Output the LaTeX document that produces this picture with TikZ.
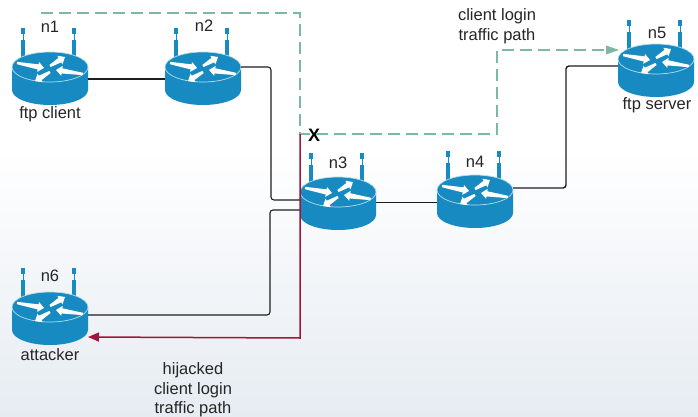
\documentclass[tikz,border=0pt]{standalone}
\usepackage{fontspec}
\setmainfont{Liberation Sans}
\usetikzlibrary{arrows.meta,calc}
\definecolor{routerblue}{HTML}{178BC1}
\definecolor{pathgreen}{HTML}{7DB8A5}
\definecolor{pathred}{HTML}{A6133A}
\definecolor{wirecol}{HTML}{1E1E1E}
\definecolor{bgend}{HTML}{E6ECF2}
\tikzset{
  routerbox/.style={minimum width=76pt,minimum height=52pt,inner sep=0pt,outer sep=0pt},
  lbl/.style={text=black!85,font=\fontsize{16.5}{19.5}\selectfont,align=center,inner sep=0pt},
  wire/.style={draw=wirecol,line width=1.1pt,rounded corners=3pt},
  goodpath/.style={draw=pathgreen,line width=1.3pt,dash pattern=on 12pt off 6pt},
  badpath/.style={draw=pathred,line width=1.5pt},
}
\newcommand{\tarrow}[4]{% x, y, canvas angle, length
  \fill[white,shift={(#1,#2)},rotate=#3] (0,-1.2) -- (#4-6,-2.6) -- (#4-6,-5) -- (#4,0) -- (#4-6,5) -- (#4-6,2.6) -- (0,1.2) -- cycle;
}
\newcommand{\routerdraw}[3]{%
  \begin{scope}[shift={(#2,#3)}]
    \fill[routerblue] (-29,-39) rectangle (-25,-33);
    \fill[routerblue] (-27.5,-33) rectangle (-26.5,-27);
    \fill[routerblue] (-28.7,-27) rectangle (-25,-10);
    \fill[routerblue] (22,-39) rectangle (26,-33);
    \fill[routerblue] (23.5,-33) rectangle (24.5,-27);
    \fill[routerblue] (22.3,-27) rectangle (26,-10);
    \fill[routerblue] (-38,0) -- (-38,23) arc[start angle=180,end angle=0,x radius=38,y radius=15] -- (38,0) -- cycle;
    \fill[routerblue] (0,0) ellipse[x radius=38,y radius=15];
    \draw[white!70!routerblue,line width=0.7pt] (0,0) ellipse[x radius=38,y radius=15];
    \tarrow{-33}{-4}{-10.5}{27.5}
    \tarrow{0}{-1}{31}{17.5}
    \tarrow{33}{7}{171.5}{27.3}
    \tarrow{0}{5}{211}{17.5}
  \end{scope}
  \node[routerbox] (#1) at (#2,#3+12) {};
}
\begin{document}
\begin{tikzpicture}[x=1pt,y=-1pt]
  \useasboundingbox (0,0) rectangle (698,417);
  \fill[white] (0,0) rectangle (698,150);
  \shade[top color=white,bottom color=bgend] (0,150) rectangle (698,417);

  \routerdraw{n1}{50}{67}
  \routerdraw{n2}{203}{67}
  \routerdraw{n3}{338}{192}
  \routerdraw{n4}{475}{190}
  \routerdraw{n5}{656}{59}
  \routerdraw{n6}{50}{307}

  \node[lbl] (ln1) at (50,27) {n1};
  \node[lbl] (ln2) at (204,26) {n2};
  \node[lbl] (ln3) at (338,163) {n3};
  \node[lbl] (ln4) at (475,162) {n4};
  \node[lbl] (ln5) at (657,33) {n5};
  \node[lbl] (ln6) at (50,276) {n6};
  \node[lbl] (client) at (50,114) {ftp client};
  \node[lbl] (server) at (657,105) {ftp server};
  \node[lbl] (attacker) at (50,355) {attacker};
  \node[lbl] (golabel) at (497,26) {client login\\traffic path};
  \node[lbl] (badlabel) at (193,390) {hijacked\\client login\\traffic path};
  \node[text=black,font=\bfseries\fontsize{18}{20}\selectfont,inner sep=0pt] (cut) at (314,135) {X};

  \draw[wire] (n1.east) -- (n2.west);
  \draw[wire] ([yshift=12pt]n2.east) -| (271,150) |- ([yshift=4pt]n3.west);
  \draw[wire] ([yshift=-6pt]n3.west) -| (270,260) |- ([yshift=4pt]n6.east);
  \draw[wire] ([yshift=1.5pt]n3.east) -- ([yshift=-0.5pt]n4.west);
  \draw[wire,line width=1.4pt] ([yshift=14pt]n4.east) -| (566,120) |- ([yshift=5pt]n5.west);

  \coordinate (gstart) at (41,13);
  \coordinate (gc1) at (300,13);
  \coordinate (xpt) at (300,134);
  \coordinate (gc2) at (497,134);
  \coordinate (gc3) at (497,50);
  \draw[goodpath] (gstart) -- (gc1) -- (xpt) -- (gc2) -- (gc3) -- (606,50);
  \path[fill=pathgreen] (619,50) -- (606,45.5) -- (606,54.5) -- cycle;

  \coordinate (rc) at (300,338);
  \draw[badpath,-{Triangle[width=9pt,length=11pt]}] (xpt) -- (rc) -- ([yshift=-18pt]n6.east);
\end{tikzpicture}
\end{document}
